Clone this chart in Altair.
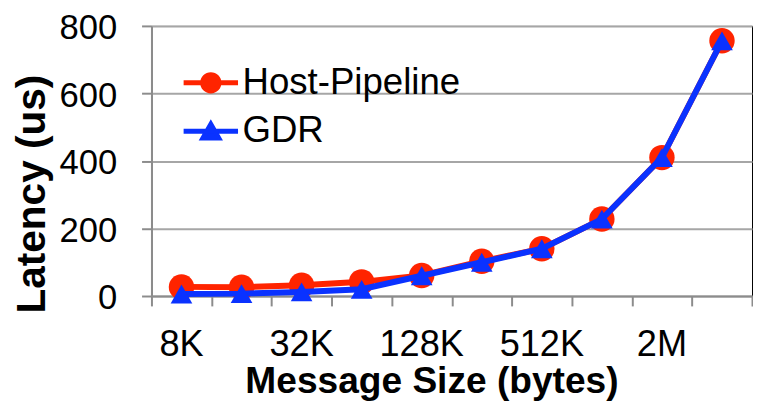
import altair as alt
import pandas as pd

sizes = ["8K", "16K", "32K", "64K", "128K", "256K", "512K", "1M", "2M", "4M"]
shown_labels = ["8K", "32K", "128K", "512K", "2M"]
host_pipeline = [27, 26, 32, 42, 61, 103, 140, 228, 410, 756]
gdr = [6, 7, 12, 20, 60, 100, 140, 228, 410, 756]
series_names = ["Host-Pipeline", "GDR"]
colors = ["#FF2400", "#0A32FF"]

rows = []
for s, v in zip(sizes, host_pipeline):
    rows.append({"size": s, "series": "Host-Pipeline", "latency": v})
for s, v in zip(sizes, gdr):
    rows.append({"size": s, "series": "GDR", "latency": v})
df = pd.DataFrame(rows)

FONT = "Liberation Sans"
GRAY = "#8C8C8C"

x_scale = alt.Scale(type="band", domain=sizes, paddingInner=0, paddingOuter=0)

# axis carrying the labels and title
x_label_axis = alt.Axis(
    title="Message Size (bytes)",
    orient="bottom",
    values=shown_labels,
    ticks=False,
    labelAngle=0,
    labelFontSize=36.5,
    labelBaseline="alphabetic",
    labelPadding=60,
    domainColor=GRAY,
    domainWidth=2,
    grid=False,
    titleFontSize=37.5,
    titleFontWeight="bold",
    titleBaseline="alphabetic",
    titleX=283,
    titleY=98,
)
# axis carrying the tick marks at band edges
x_tick_axis = alt.Axis(
    title=None,
    orient="bottom",
    labels=False,
    domain=False,
    tickBand="extent",
    tickSize=10,
    tickWidth=2,
    tickColor=GRAY,
    grid=False,
)

y_enc = alt.Y(
    "latency:Q",
    scale=alt.Scale(domain=[0, 800], nice=False),
    axis=alt.Axis(
        title="Latency (us)",
        values=[0, 200, 400, 600, 800],
        labelFontSize=35,
        labelPadding=25,
        labelOffset=2,
        tickSize=10,
        tickWidth=2,
        tickColor=GRAY,
        domainColor=GRAY,
        domainWidth=2,
        grid=True,
        gridColor="#A6A6A6",
        gridWidth=2,
        titleFontSize=41,
        titleFontWeight="bold",
        titleAngle=270,
        titleBaseline="alphabetic",
        titleAlign="center",
        titleX=-108,
        titleY=169.5,
    ),
)


def x_enc(axis):
    return alt.X("size:N", sort=sizes, bandPosition=0.5, scale=x_scale, axis=axis)


base = alt.Chart(df).encode(x=x_enc(x_label_axis), y=y_enc)

red_line = base.transform_filter(alt.datum.series == "Host-Pipeline").mark_line(
    color=colors[0], strokeWidth=6
)
red_pts = base.transform_filter(alt.datum.series == "Host-Pipeline").mark_circle(
    color=colors[0], size=660, opacity=1
)
blue_line = base.transform_filter(alt.datum.series == "GDR").mark_line(
    color=colors[1], strokeWidth=6
)
blue_pts = base.transform_filter(alt.datum.series == "GDR").mark_point(
    shape="triangle-up", filled=True, color=colors[1], size=480, opacity=1
)

legend_paths = [
    "M-1,0L1,0M-0.3,0A0.3,0.3,0,1,1,0.3,0A0.3,0.3,0,1,1,-0.3,0Z",
    "M-1,0L1,0M0,-0.26L0.29,0.25L-0.29,0.25Z",
]
leg = alt.Legend(
    title=None,
    orient="none",
    legendX=30,
    legendY=27.5,
    padding=0,
    rowPadding=0,
    symbolSize=3025,
    symbolStrokeWidth=5,
    symbolOpacity=1,
    labelFontSize=37,
    labelOffset=2,
    labelLimit=500,
    labelColor="black",
)
legend_layer = (
    alt.Chart(df)
    .transform_filter("false")
    .mark_point(filled=True, opacity=1)
    .encode(
        x=x_enc(x_tick_axis),
        y=y_enc,
        fill=alt.Fill("series:N", scale=alt.Scale(domain=series_names, range=colors), legend=leg),
        stroke=alt.Stroke("series:N", scale=alt.Scale(domain=series_names, range=colors), legend=leg),
        shape=alt.Shape("series:N", scale=alt.Scale(domain=series_names, range=legend_paths), legend=leg),
    )
)

data_layers = alt.layer(red_line, red_pts, blue_line, blue_pts)

chart = (
    alt.layer(legend_layer, data_layers)
    .resolve_axis(x="independent")
    .properties(
        width=607,
        height=273,
        autosize=alt.AutoSizeParams(type="none"),
        padding={"left": 145, "top": 16, "right": 1, "bottom": 104},
    )
    .configure_axis(labelFont=FONT, titleFont=FONT, labelColor="black", titleColor="black")
    .configure_legend(labelFont=FONT)
    .configure_view(stroke="black", strokeWidth=1)
)

chart.save("out.html", embed_options={"renderer": "svg", "actions": False})
